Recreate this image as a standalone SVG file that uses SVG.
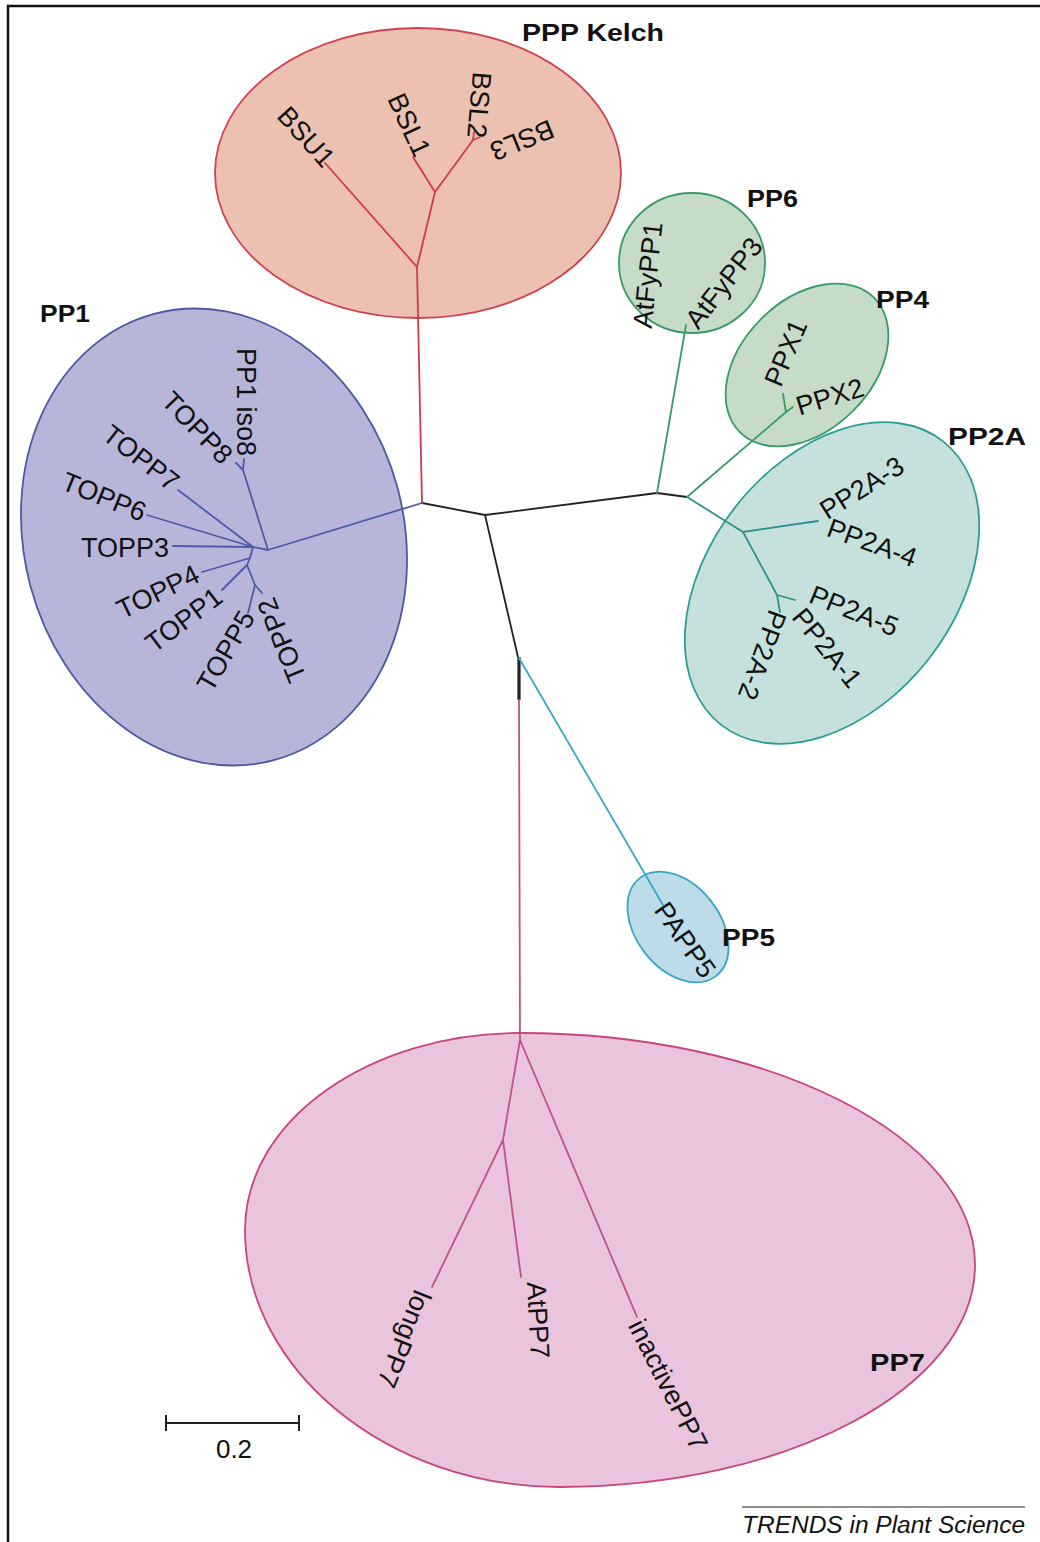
<svg xmlns="http://www.w3.org/2000/svg" width="1040" height="1542" viewBox="0 0 1040 1542">
<style>
.lf{font-family:"Liberation Sans",Arial,sans-serif;font-size:27px;fill:#111;text-anchor:middle;dominant-baseline:central}
.gl{font-family:"Liberation Sans",Arial,sans-serif;font-size:24px;font-weight:bold;fill:#111}
.br{fill:none;stroke-width:1.8;stroke-linecap:round;stroke-linejoin:round}
.blk{stroke:#222}
.red{stroke:#d23a4c}
.blu{stroke:#4f5aa6}
.grn{stroke:#3a9a66}
.tea{stroke:#2b928b}
.cya{stroke:#3aa8c4}
.pnk{stroke:#c0508c}
</style>
<rect width="1040" height="1542" fill="#fff"/>
<path d="M8,1542 V6 H1040" fill="none" stroke="#111" stroke-width="2.5"/>

<g id="clade-kelch">
<ellipse cx="418" cy="173" rx="203" ry="145" fill="#ecc1b1" stroke="#d04252" stroke-width="1.8"/>
<text class="lf" transform="translate(306,137) rotate(48)">BSU1</text>
<text class="lf" transform="translate(409,125) rotate(65)">BSL1</text>
<text class="lf" transform="translate(479,105) rotate(95)">BSL2</text>
<text class="lf" transform="translate(522,140) rotate(158)">BSL3</text>
<text class="gl" x="522" y="41" textLength="142" lengthAdjust="spacingAndGlyphs">PPP Kelch</text>
</g>

<g id="clade-pp1">
<ellipse cx="214" cy="537" rx="190" ry="231" transform="rotate(-15 214 537)" fill="#b7b6da" stroke="#4d58a0" stroke-width="1.8"/>
<text class="lf" transform="translate(246,402) rotate(90)">PP1 iso8</text>
<text class="lf" transform="translate(197,428) rotate(46)">TOPP8</text>
<text class="lf" transform="translate(141,458) rotate(38)">TOPP7</text>
<text class="lf" transform="translate(104,497) rotate(22)">TOPP6</text>
<text class="lf" transform="translate(125,548)">TOPP3</text>
<text class="lf" transform="translate(158,592) rotate(-26)">TOPP4</text>
<text class="lf" transform="translate(184,620) rotate(-37)">TOPP1</text>
<text class="lf" transform="translate(226,651) rotate(-60)">TOPP5</text>
<text class="lf" transform="translate(282,640) rotate(248)">TOPP2</text>
<text class="gl" x="40" y="322" textLength="50" lengthAdjust="spacingAndGlyphs">PP1</text>
</g>

<g id="clade-pp6">
<ellipse cx="692" cy="263" rx="73" ry="70" fill="#c6dcc7" stroke="#3a9a6a" stroke-width="1.8"/>
<text class="lf" transform="translate(648,275) rotate(-84)">AtFyPP1</text>
<text class="lf" transform="translate(724,283) rotate(-52)">AtFyPP3</text>
<text class="gl" x="747" y="207" textLength="51" lengthAdjust="spacingAndGlyphs">PP6</text>
</g>

<g id="clade-pp4">
<ellipse cx="807" cy="365" rx="95" ry="65" transform="rotate(-45 807 365)" fill="#c6dcc7" stroke="#3a9a6a" stroke-width="1.8"/>
<text class="lf" transform="translate(786,353) rotate(-67)">PPX1</text>
<text class="lf" transform="translate(830,397) rotate(-17)">PPX2</text>
<text class="gl" x="876" y="308" textLength="53" lengthAdjust="spacingAndGlyphs">PP4</text>
</g>

<g id="clade-pp2a">
<ellipse cx="832" cy="583" rx="180" ry="123" transform="rotate(-52 832 583)" fill="#c6e1dd" stroke="#2a9d95" stroke-width="1.8"/>
<text class="lf" transform="translate(862,488) rotate(-32)">PP2A-3</text>
<text class="lf" transform="translate(872,543) rotate(20)">PP2A-4</text>
<text class="lf" transform="translate(854,611) rotate(22)">PP2A-5</text>
<text class="lf" transform="translate(827,648) rotate(51)">PP2A-1</text>
<text class="lf" transform="translate(762,655) rotate(110)">PP2A-2</text>
<text class="gl" x="948" y="445" textLength="78" lengthAdjust="spacingAndGlyphs">PP2A</text>
</g>

<g id="clade-pp5">
<ellipse cx="678" cy="927" rx="62" ry="42" transform="rotate(52 678 927)" fill="#bddce9" stroke="#3aa5c0" stroke-width="1.8"/>
<text class="lf" transform="translate(685,940) rotate(55)">PAPP5</text>
<text class="gl" x="722" y="946" textLength="53" lengthAdjust="spacingAndGlyphs">PP5</text>
</g>

<g id="clade-pp7">
<path d="M520,1033 C770,1033 975,1137 975,1265 C975,1387 788,1487 560,1487 C388,1487 245,1370 245,1230 C245,1120 370,1033 520,1033 Z" fill="#eac4dd" stroke="#c8447e" stroke-width="1.8"/>
<text class="lf" transform="translate(404,1339) rotate(112)">longPP7</text>
<text class="lf" transform="translate(538,1320) rotate(87)">AtPP7</text>
<text class="lf" transform="translate(668,1385) rotate(63)">inactivePP7</text>
<text class="gl" x="870" y="1371" textLength="55" lengthAdjust="spacingAndGlyphs">PP7</text>
</g>

<g id="connectors">
<path class="br blk" d="M422,503 L485,515 L657,493 L687,497 M485,515 L518,657"/>
<path d="M519,657 V700" stroke="#222" stroke-width="3.2" fill="none"/>
<path class="br red" d="M422,503 L417,267 L325,163 M417,267 L435,192 L413,157 M435,192 L473,140 L474,132 M473,140 L480,137"/>
<path class="br blu" d="M422,503 L268,550 L243,470 L244,459 M243,470 L236,463 M268,550 L253,547 L178,490 M253,547 L147,515 M253,547 L173,546 M253,547 L250,558 L202,572 M250,558 L247,565 L222,590 M247,565 L255,585 L248,613 M255,585 L262,593"/>
<path class="br grn" d="M657,493 L686,325 M687,497 L786,412 L783,394 M786,412 L793,407"/>
<path class="br tea" d="M687,497 L743,532 L818,521 M743,532 L777,595 L795,600 M777,595 L780,612"/>
<path class="br cya" d="M519,658 L663,905"/>
<path class="br pnk" d="M519,700 L520,1040 L503,1140 L432,1287 M503,1140 L521,1277 M520,1040 L637,1317"/>
</g>

<g id="scale">
<path d="M166,1423 H299 M166,1415 V1431 M299,1415 V1431" stroke="#222" stroke-width="2" fill="none"/>
<text x="234" y="1458" font-family="Liberation Sans,Arial,sans-serif" font-size="26" text-anchor="middle" fill="#111">0.2</text>
</g>

<g id="footer">
<path d="M742,1507 H1025" stroke="#222" stroke-width="1.2"/>
<text x="742" y="1533" font-family="Liberation Sans,Arial,sans-serif" font-size="23" font-style="italic" textLength="283" lengthAdjust="spacingAndGlyphs" fill="#111">TRENDS in Plant Science</text>
</g>
</svg>
